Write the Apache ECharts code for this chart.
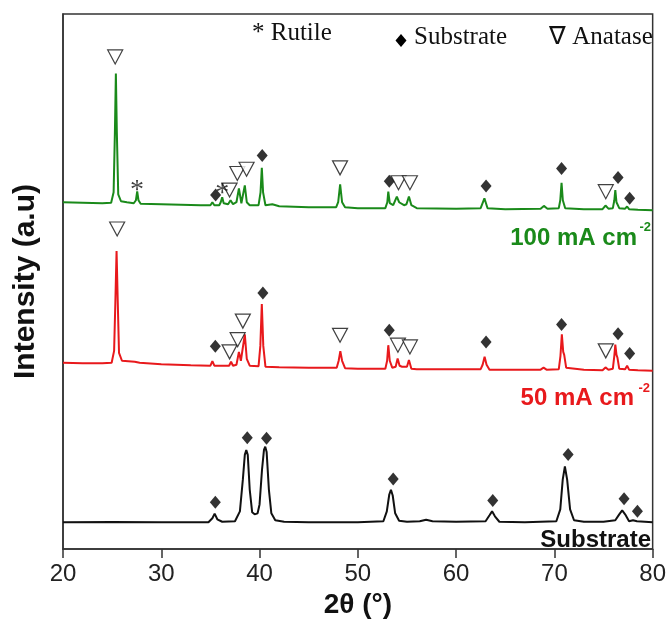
<!DOCTYPE html>
<html><head><meta charset="utf-8">
<script src="https://cdn.jsdelivr.net/npm/echarts@6/dist/echarts.min.js"></script>
<style>html,body{margin:0;padding:0;background:#fff}#c{width:669px;height:624px}</style>
</head><body><div id="c"></div>
<script>
// x: 2theta (deg), y: intensity (arbitrary units, offset stacked)
const greenCurve = [
[20,350],[22,349.5],[24,349],[24.9,349.5],[25.15,360],[25.28,420],[25.38,480],[25.48,420],[25.62,358],[25.9,351],[26.5,350],[27.2,349],[27.42,352],[27.55,361],[27.68,352],[27.9,348.5],[30,348],[32,347.5],[34,347],[35.0,347],[35.2,350],[35.4,347],[35.9,347],[36.05,350],[36.2,355],[36.35,349],[36.8,348],[37.05,352],[37.3,348],[37.65,350],[37.9,364],[38.15,349],[38.3,350],[38.5,367],[38.7,350],[39,347],[39.9,347],[40.1,360],[40.23,384.7],[40.36,360],[40.6,347],[41.3,348],[42,346],[45,345],[47.8,345],[48.0,350],[48.2,368],[48.4,350],[48.7,345],[50,344],[52.8,344],[53.0,350],[53.1,360.7],[53.25,349],[53.6,347],[53.97,355.7],[54.2,350],[54.4,352],[54.7,347],[54.95,348],[55.2,355.7],[55.45,347],[56,344],[60,343.5],[62.5,344],[62.88,354],[63.2,344],[65,343],[68.6,343.5],[68.93,346.3],[69.3,343.5],[70.45,344],[70.6,352],[70.73,369.7],[70.86,352],[71.1,344],[73,343],[74.9,343],[75.2,346.7],[75.5,343.5],[75.95,344],[76.1,352],[76.2,362.3],[76.32,350],[76.6,344],[77.2,343.5],[77.4,345.7],[77.6,343],[78.5,342.5],[80,342]
];
const redCurve = [
[20,188],[22,187.5],[24,187.5],[24.95,188],[25.2,200],[25.33,250],[25.45,300.7],[25.57,250],[25.7,198],[26,190],[27.3,189],[27.5,190],[27.8,188],[30,186.5],[33,185.5],[35.0,185],[35.2,189.7],[35.4,185],[36.0,185],[36.2,186.3],[36.4,185],[36.9,185],[37.1,189],[37.3,185],[37.65,186],[37.9,199],[38.1,190],[38.3,192],[38.5,216.7],[38.7,192],[39.0,185],[39.9,184.5],[40.08,205],[40.23,247.3],[40.38,205],[40.6,184],[42,183.5],[45,183],[47.85,183],[48.05,190],[48.22,199.7],[48.4,190],[48.7,182.5],[50,182],[52.8,182],[52.98,190],[53.1,205.7],[53.25,190],[53.5,183],[53.85,184],[54.05,192.3],[54.25,185],[54.5,184],[55.0,184],[55.2,190.7],[55.45,182],[56,181.5],[60,181.5],[62.5,181.5],[62.7,186],[62.9,194],[63.1,186],[63.4,181],[65,181],[68.6,181],[68.9,183],[69.2,181],[70.45,181.5],[70.62,195],[70.76,216.7],[70.9,199],[71.0,196],[71.2,183],[73,181],[74.9,180.5],[75.2,183.3],[75.5,181],[75.95,182],[76.1,195],[76.2,206.3],[76.32,196],[76.42,193],[76.6,182],[77.2,181.5],[77.4,185],[77.6,181],[78.5,180.5],[80,180]
];
const blackCurve = [
[20,27],[25,27.3],[30,27],[34.8,27],[35.2,31],[35.43,35.7],[35.7,30],[36.2,27.5],[37.5,28],[38.0,38],[38.3,70],[38.5,95],[38.65,100],[38.8,95],[39.0,60],[39.25,37],[39.5,35],[39.8,36],[40.0,45],[40.25,80],[40.45,100],[40.58,103.3],[40.72,98],[40.95,60],[41.2,36],[41.6,29],[42.5,27.5],[45,27],[50,27],[52.6,28],[52.95,38],[53.2,55],[53.37,59.7],[53.55,54],[53.8,36],[54.2,28.5],[55,27.5],[56.3,28],[56.95,29.5],[57.6,28],[60,27.5],[63.0,28],[63.4,34],[63.66,38],[63.95,33],[64.4,27.5],[67,27],[70.2,28],[70.6,40],[70.85,70],[71.07,83.3],[71.3,70],[71.6,40],[72,29],[73,27.5],[75,27.5],[76.2,29],[76.6,35],[76.9,39],[77.2,35],[77.6,28],[78.0,29],[78.14,30],[78.4,28],[80,27]
];
// phase markers
const substrateMarks = [
[35.53,357.3],[40.27,397.3],[53.2,371.3],[63.05,366.3],[70.73,384],[76.48,375],[77.66,354],
[35.5,204.7],[40.34,258.3],[53.2,220.7],[63.05,209],[70.73,226.7],[76.48,217.3],[77.66,197.3],
[35.5,47.3],[38.75,112.3],[40.71,111.7],[53.6,70.7],[63.73,49],[71.4,95.3],[77.09,50.7],[78.45,38]
];
const anataseMarks = [
[25.31,496.7],[36.95,362.3],[37.74,379],[38.68,383.3],[48.19,384.7],[54.14,369.7],[55.3,369.7],[75.23,360.7],
[25.51,323],[36.95,199],[37.77,211.3],[38.3,230],[48.19,215.7],[54.08,205.7],[55.3,204],[75.23,200]
];
const rutileMarks = [[27.54,369],[36.21,365.7]];
const xTicks = [20,30,40,50,60,70,80];

const chart = echarts.init(document.getElementById('c'));
const serif = '"Liberation Serif","Times New Roman",serif';
const sans = '"Liberation Sans",Arial,sans-serif';
chart.setOption({
  animation:false,
  grid:{left:63,right:15,top:14,bottom:69,show:true,borderColor:'#333',borderWidth:1.5},
  xAxis:{type:'value',min:xTicks[0],max:xTicks[xTicks.length-1],interval:10,
    name:'2\u03B8 (\u00B0)',nameLocation:'middle',nameGap:42,
    nameTextStyle:{fontFamily:sans,fontWeight:'bold',fontSize:28,color:'#111'},
    axisLine:{lineStyle:{color:'#333',width:1.5}},
    axisTick:{inside:false,length:9,lineStyle:{color:'#333',width:1.5}},
    axisLabel:{fontFamily:sans,fontSize:24,color:'#222',margin:13},
    splitLine:{show:false}},
  yAxis:{type:'value',min:0,max:540,
    name:'Intensity (a.u)',nameLocation:'middle',nameGap:22,
    nameTextStyle:{fontFamily:sans,fontWeight:'bold',fontSize:30,color:'#111'},
    axisLine:{show:true,lineStyle:{color:'#333',width:1.5}},
    axisTick:{show:false},axisLabel:{show:false},splitLine:{show:false}},
  series:[
    {type:'line',data:blackCurve,showSymbol:false,lineStyle:{color:'#111',width:2},z:2},
    {type:'line',data:redCurve,showSymbol:false,lineStyle:{color:'#e8191c',width:2},z:2},
    {type:'line',data:greenCurve,showSymbol:false,lineStyle:{color:'#1a8a1a',width:2},z:2},
    {type:'scatter',data:substrateMarks,symbol:'diamond',symbolSize:[11,13],itemStyle:{color:'#000'},z:5},
    {type:'scatter',data:anataseMarks,symbol:'path://M0,0 L20,0 L10,18 Z',symbolSize:[15,14],
      itemStyle:{color:'#fff',borderColor:'#111',borderWidth:1.2},z:5},
    {type:'scatter',data:rutileMarks,symbol:'circle',symbolSize:0,
      label:{show:true,position:'inside',formatter:'*',fontFamily:serif,fontSize:28,color:'#111',offset:[0,7]},z:5}
  ],
  graphic:[
    {type:'text',left:252,top:21,style:{text:'* Rutile',font:'25px '+serif,fill:'#111'}},
    {type:'polygon',shape:{points:[[401,34],[406.5,40.5],[401,47],[395.5,40.5]]},style:{fill:'#000'}},
    {type:'text',left:414,top:25,style:{text:'Substrate',font:'25px '+serif,fill:'#111'}},
    {type:'text',left:549,top:25,style:{text:'\u2207 Anatase',font:'25px '+serif,fill:'#111'}},
    {type:'text',right:32,top:226,style:{text:'100 mA cm',font:'bold 24px '+sans,fill:'#1a8a1a'}},
    {type:'text',right:18,top:221,style:{text:'-2',font:'bold 13px '+sans,fill:'#1a8a1a'}},
    {type:'text',right:35,top:386,style:{text:'50 mA cm',font:'bold 24px '+sans,fill:'#e8191c'}},
    {type:'text',right:19,top:382,style:{text:'-2',font:'bold 13px '+sans,fill:'#e8191c'}},
    {type:'text',right:18,top:528,style:{text:'Substrate',font:'bold 24px '+sans,fill:'#111'}}
  ]
});
</script></body></html>
